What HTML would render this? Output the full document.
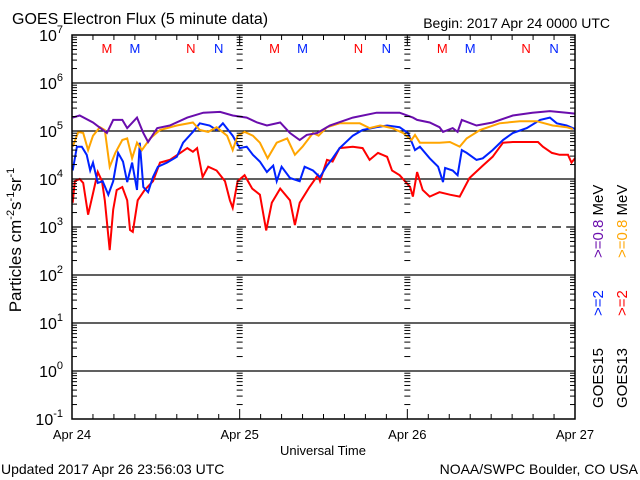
<!DOCTYPE html>
<html><head><meta charset="utf-8"><style>
body{margin:0;background:#fff;width:640px;height:480px;overflow:hidden}
svg{display:block;font-family:"Liberation Sans",sans-serif}
</style></head><body>
<svg id="chart" width="640" height="480" viewBox="0 0 640 480">
<text x="12" y="24" font-size="16">GOES Electron Flux (5 minute data)</text>
<text x="610" y="28" font-size="14" text-anchor="end">Begin: 2017 Apr 24 0000 UTC</text>
<g id="grid"></g>
<g id="series"></g>
<rect x="72" y="35" width="503" height="384" fill="none" stroke="#000" stroke-width="1.5"/>
<g id="axes"></g>
<text transform="translate(21,240) rotate(-90)" font-size="17" text-anchor="middle">Particles cm<tspan dy="-7" font-size="11">-2</tspan><tspan dy="7">s</tspan><tspan dy="-7" font-size="11">-1</tspan><tspan dy="7">sr</tspan><tspan dy="-7" font-size="11">-1</tspan></text>
<text x="323" y="455" font-size="13" text-anchor="middle">Universal Time</text>
<text x="1" y="474" font-size="14">Updated 2017 Apr 26 23:56:03 UTC</text>
<text x="638" y="474" font-size="14" text-anchor="end">NOAA/SWPC Boulder, CO USA</text>
<g font-size="15">
<text transform="translate(603,258) rotate(-90)" fill="#6a0dad">&gt;=0.8 <tspan fill="#000">MeV</tspan></text>
<text transform="translate(627,258) rotate(-90)" fill="#ffa500">&gt;=0.8 <tspan fill="#000">MeV</tspan></text>
<text transform="translate(603,316) rotate(-90)" fill="#0022ff">&gt;=2</text>
<text transform="translate(627,316) rotate(-90)" fill="#ff0000">&gt;=2</text>
<text transform="translate(603,408) rotate(-90)">GOES15</text>
<text transform="translate(627,408) rotate(-90)">GOES13</text>
</g>
</svg>
<script>
const dayLabels=["Apr 24","Apr 25","Apr 26","Apr 27"];
const decades=[-1,0,1,2,3,4,5,6,7];
const markerHours=[5,9,17,21,29,33,41,45,53,57,65,69];
const markerText=["M","M","N","N","M","M","N","N","M","M","N","N"];
const markerColor=["#f00","#0022ff","#f00","#0022ff","#f00","#0022ff","#f00","#0022ff","#f00","#0022ff","#f00","#0022ff"];

const purpleH=[0.1,1.1,3.0,5.0,5.9,7.2,7.9,9.3,10.2,10.9,12.2,14.0,16.5,18.8,21.2,23.0,25.0,26.5,27.9,29.8,31.2,32.6,33.6,35.1,36.9,40.2,43.6,46.9,48.8,49.4,51.2,52.6,53.1,54.5,55.2,55.8,57.9,60.2,63.1,65.9,68.4,70.8,72.0];
const purpleV=[1.9e5,2.1e5,1.5e5,9.1e4,1.7e5,1.7e5,1.15e5,1.9e5,9.1e4,5.9e4,1.15e5,1.3e5,1.9e5,2.4e5,2.5e5,2.1e5,1.9e5,1.5e5,1.3e5,1.5e5,9.1e4,6.5e4,8.3e4,9.1e4,1.3e5,1.9e5,2.4e5,2.4e5,1.9e5,1.7e5,1.5e5,1.2e5,9.6e4,1.15e5,9.6e4,1.7e5,1.3e5,1.5e5,2.1e5,2.4e5,2.6e5,2.4e5,2.3e5];

const orangeH=[0.1,0.9,1.6,2.3,3.0,4.0,4.7,5.4,6.2,7.2,7.9,8.6,9.3,10.0,11.2,12.6,15.0,17.3,18.3,19.5,20.7,22.2,23.0,23.7,24.7,25.9,26.9,28.0,29.3,30.8,31.9,33.0,34.5,35.3,36.5,38.3,41.2,42.6,44.1,45.8,47.4,48.6,49.1,49.8,51.2,52.6,54.1,55.5,56.5,58.4,61.2,64.1,66.5,68.8,70.8,71.7];
const orangeV=[4.7e4,9.6e4,9.1e4,4e4,8e4,1.2e5,1.05e5,1.8e4,3.5e4,6.5e4,7e4,2.7e4,5.7e4,4e4,7e4,1.05e5,1.3e5,1.5e5,1.05e5,9.6e4,1.2e5,8e4,4e4,8e4,9.6e4,8e4,5.7e4,2.7e4,5.7e4,7e4,3.2e4,4.7e4,9.1e4,8e4,1.2e5,1.45e5,1.45e5,1.15e5,1.3e5,1.15e5,9.1e4,6.5e4,8.3e4,5.7e4,5.7e4,5.7e4,5.9e4,4.7e4,7e4,1.05e5,1.45e5,1.6e5,1.6e5,1.3e5,1.2e5,1.1e5];

const blueH=[0.1,0.7,1.4,2.1,2.6,3.0,3.7,4.4,5.2,5.9,6.6,7.3,7.9,8.6,9.3,9.7,10.2,10.9,11.6,12.3,13.6,15.0,15.9,17.3,18.3,19.7,20.7,21.6,23.0,24.0,25.0,25.9,26.9,27.9,28.8,29.3,30.0,31.2,32.6,33.3,34.5,35.2,35.5,36.5,37.3,38.3,40.2,41.6,43.6,45.1,46.9,48.1,49.1,49.8,51.2,52.4,53.1,53.4,54.5,55.2,55.8,56.5,57.9,58.8,60.2,61.7,63.1,65.1,67.0,68.4,69.4,70.8,72.0];
const blueV=[1.5e4,4.7e4,4.7e4,3.2e4,1.5e4,2.2e4,8.3e3,9e3,4.7e3,9e3,3.5e4,2.3e4,8.6e3,2.2e4,5.9e3,5.7e4,6.8e3,5.3e3,1.1e4,1.8e4,2.2e4,2.9e4,5.7e4,9.6e4,1.45e5,1.3e5,1.05e5,1.45e5,8e4,4.4e4,4.7e4,3.2e4,2.3e4,1.4e4,1.9e4,9e3,1.8e4,1.05e4,9e3,1.8e4,1.5e4,1.2e4,1.1e4,1.9e4,2.7e4,4.4e4,8e4,1.05e5,1.2e5,1.3e5,1.2e5,9.1e4,4e4,4.7e4,2.7e4,1.8e4,8.6e3,1.7e4,1.5e4,1.2e4,4e4,3.5e4,2.5e4,2.7e4,4e4,6.5e4,9.1e4,1.15e5,1.7e5,1.9e5,1.45e5,1.3e5,1.1e5];

const redH=[0.1,0.4,1.1,1.6,2.3,3.0,3.7,4.3,4.7,5.4,5.9,6.4,7.2,7.9,8.3,8.7,9.4,10.4,11.6,12.6,14.0,15.5,16.5,17.3,17.9,18.7,19.5,20.7,21.9,22.6,23.0,23.7,24.7,25.8,26.9,27.8,28.6,29.8,31.2,31.9,32.6,34.0,35.2,35.5,36.5,37.3,38.3,40.2,41.6,42.6,43.8,45.1,45.8,46.9,48.4,48.8,49.4,50.2,51.2,52.6,54.1,55.5,56.9,58.8,60.2,61.7,63.1,64.5,66.7,67.4,68.7,69.8,71.0,71.5,72.0];
const redV=[3.2e3,9e3,1e4,8.3e3,1.8e3,5e3,1.4e4,9e3,3.6e3,3.3e2,2.3e3,5.9e3,6.8e3,3.6e3,8.7e2,7.9e2,3.6e3,5.9e3,9e3,2.2e4,2.5e4,3.5e4,4.4e4,3.7e4,4.4e4,1.1e4,1.8e4,1.5e4,9e3,3.6e3,2.5e3,9e3,1.2e4,6.3e3,4.7e3,8.5e2,3.2e3,6.3e3,3.6e3,1.1e3,3.2e3,6.8e3,1.2e4,9e3,2.5e4,2.3e4,4.4e4,4.7e4,4.4e4,2.5e4,3.5e4,2.9e4,1.5e4,1.2e4,6.8e3,4.3e3,1.4e4,5.9e3,4.3e3,5.3e3,4.7e3,4.3e3,1.05e4,1.9e4,2.9e4,5.7e4,5.9e4,5.9e4,5.9e4,4.7e4,3.5e4,3.2e4,3.2e4,2.2e4,2.7e4];

const X0=72,X1=575,Y0=419,Y1=35;
const xs=h=>X0+(X1-X0)*h/72;
const ys=v=>Y0-(Math.log10(v)+1)/8*(Y0-Y1);
const yl=l=>Y0-(l+1)/8*(Y0-Y1);
const NS="http://www.w3.org/2000/svg";
function mk(tag,attrs,parent,txt){const e=document.createElementNS(NS,tag);for(const k in attrs)e.setAttribute(k,attrs[k]);if(txt!==undefined)e.textContent=txt;parent.appendChild(e);return e;}
const grid=document.getElementById('grid'),axes=document.getElementById('axes'),ser=document.getElementById('series');

decades.forEach(d=>{
  if(d>-1&&d<7){
    const l=mk('line',{x1:X0,x2:X1,y1:yl(d),y2:yl(d),stroke:'#000','stroke-width':1.3,'stroke-dasharray':d===3?'9 6':'none'},grid);
    
    
  }
  const t=mk('text',{x:63,y:yl(d)+6,'font-size':16,'text-anchor':'end'},axes,'10');
  
  
  mk('tspan',{dy:-8,'font-size':11},t,String(d));
  if(d<7){for(let m=2;m<=9;m++){const y=yl(d+Math.log10(m));
    [X0,X1-5].forEach(x=>mk('line',{x1:x,x2:x+5,y1:y,y2:y,stroke:'#000'},axes));
    [1,2].forEach(k=>{const x=xs(24*k);mk('line',{x1:x-3,x2:x+3,y1:y,y2:y,stroke:'#000'},axes);});
  }
  [X0,X1-9].forEach(x=>mk('line',{x1:x,x2:x+9,y1:yl(d),y2:yl(d),stroke:'#000'},axes));}
});
for(let h=0;h<=72;h+=3){const big=h%24===0;
  mk('line',{x1:xs(h),x2:xs(h),y1:Y0,y2:Y0-(big?10:5),stroke:'#000'},axes);
  mk('line',{x1:xs(h),x2:xs(h),y1:Y1,y2:Y1+(big?10:5),stroke:'#000'},axes);}
dayLabels.forEach((s,i)=>{const t=mk('text',{x:xs(24*i),y:439,'font-size':13,'text-anchor':'middle'},axes,s);
  
  });
markerHours.forEach((h,i)=>{const t=mk('text',{x:xs(h),y:53,'font-size':13,'text-anchor':'middle',fill:markerColor[i]},axes,markerText[i]);
  
  });

function line(H,V,color,name){const p=mk('polyline',{points:H.map((h,i)=>xs(h).toFixed(1)+','+ys(V[i]).toFixed(1)).join(' '),fill:'none',stroke:color,'stroke-width':2,'stroke-linejoin':'miter'},ser);
  
  }
line(redH,redV,'#ff0000','series-goes13-2mev');
line(blueH,blueV,'#0022ff','series-goes15-2mev');
line(orangeH,orangeV,'#ffa500','series-goes13-08mev');
line(purpleH,purpleV,'#6a0dad','series-goes15-08mev');
</script>
</body></html>
